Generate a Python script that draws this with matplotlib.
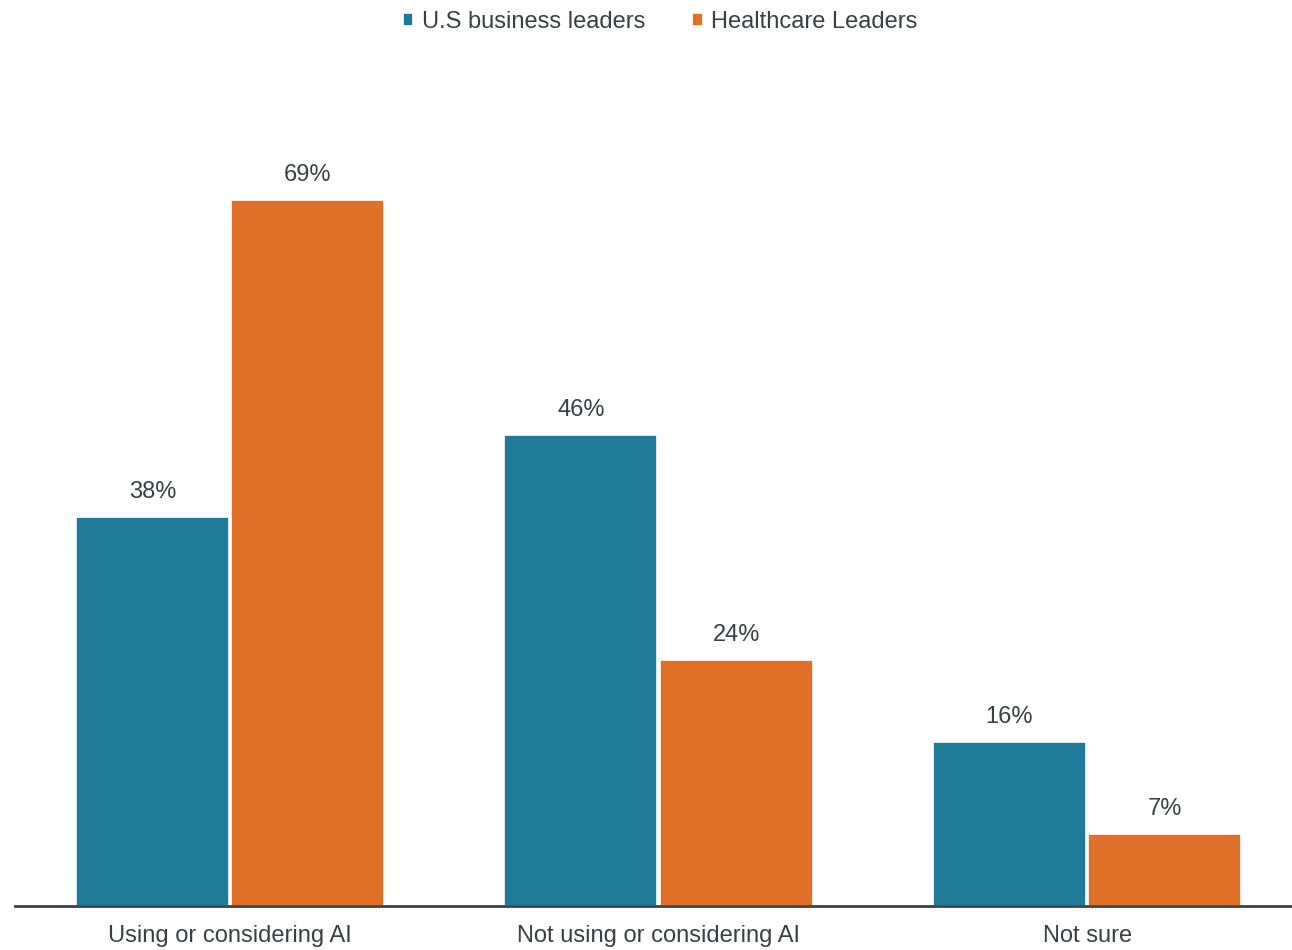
import matplotlib
matplotlib.use("Agg")
import matplotlib.pyplot as plt
import numpy as np

# Survey data
categories = ["Using or considering AI", "Not using or considering AI", "Not sure"]
us_business = [38, 46, 16]
healthcare = [69, 24, 7]
series_names = ["U.S business leaders", "Healthcare Leaders"]

blue = "#1f7b98"
orange = "#e07028"
text_col = "#3b3f45"

plt.rcParams["font.family"] = ["Liberation Sans", "DejaVu Sans"]

fig = plt.figure(figsize=(12.92, 9.5), dpi=100)
ax = fig.add_axes([15 / 1292, (950 - 906) / 950, (1292 - 15) / 1292, (906 - 60) / 950])

x = np.arange(len(categories))
w = 0.357
b1 = ax.bar(x - 0.1815, us_business, w, color=blue, edgecolor="white", linewidth=1.2,
            label=series_names[0])
b2 = ax.bar(x + 0.1815, healthcare, w, color=orange, edgecolor="white", linewidth=1.2,
            label=series_names[1])

for bars in (b1, b2):
    for r in bars:
        ax.text(r.get_x() + r.get_width() / 2, r.get_height() + 1.4, f"{r.get_height():.0f}%",
                ha="center", va="bottom", fontsize=17, color=text_col)

ax.set_xlim(-0.502, 2.478)
ax.set_ylim(0, 82.7)
ax.set_xticks(x)
ax.set_xticklabels(categories, fontsize=17, color=text_col)
ax.tick_params(axis="x", length=0, pad=14)
ax.set_yticks([])
for s in ["top", "right", "left"]:
    ax.spines[s].set_visible(False)
ax.spines["bottom"].set_color("#3d4249")
ax.spines["bottom"].set_linewidth(2)

leg = fig.legend(handles=[b1, b2], loc="center", bbox_to_anchor=(660 / 1292, 1 - 22 / 950),
                 ncol=2, frameon=False, fontsize=17, handlelength=0.45, handleheight=0.45,
                 handletextpad=0.35, columnspacing=2.0, labelcolor=text_col)

fig.savefig("out.png", dpi=100)
